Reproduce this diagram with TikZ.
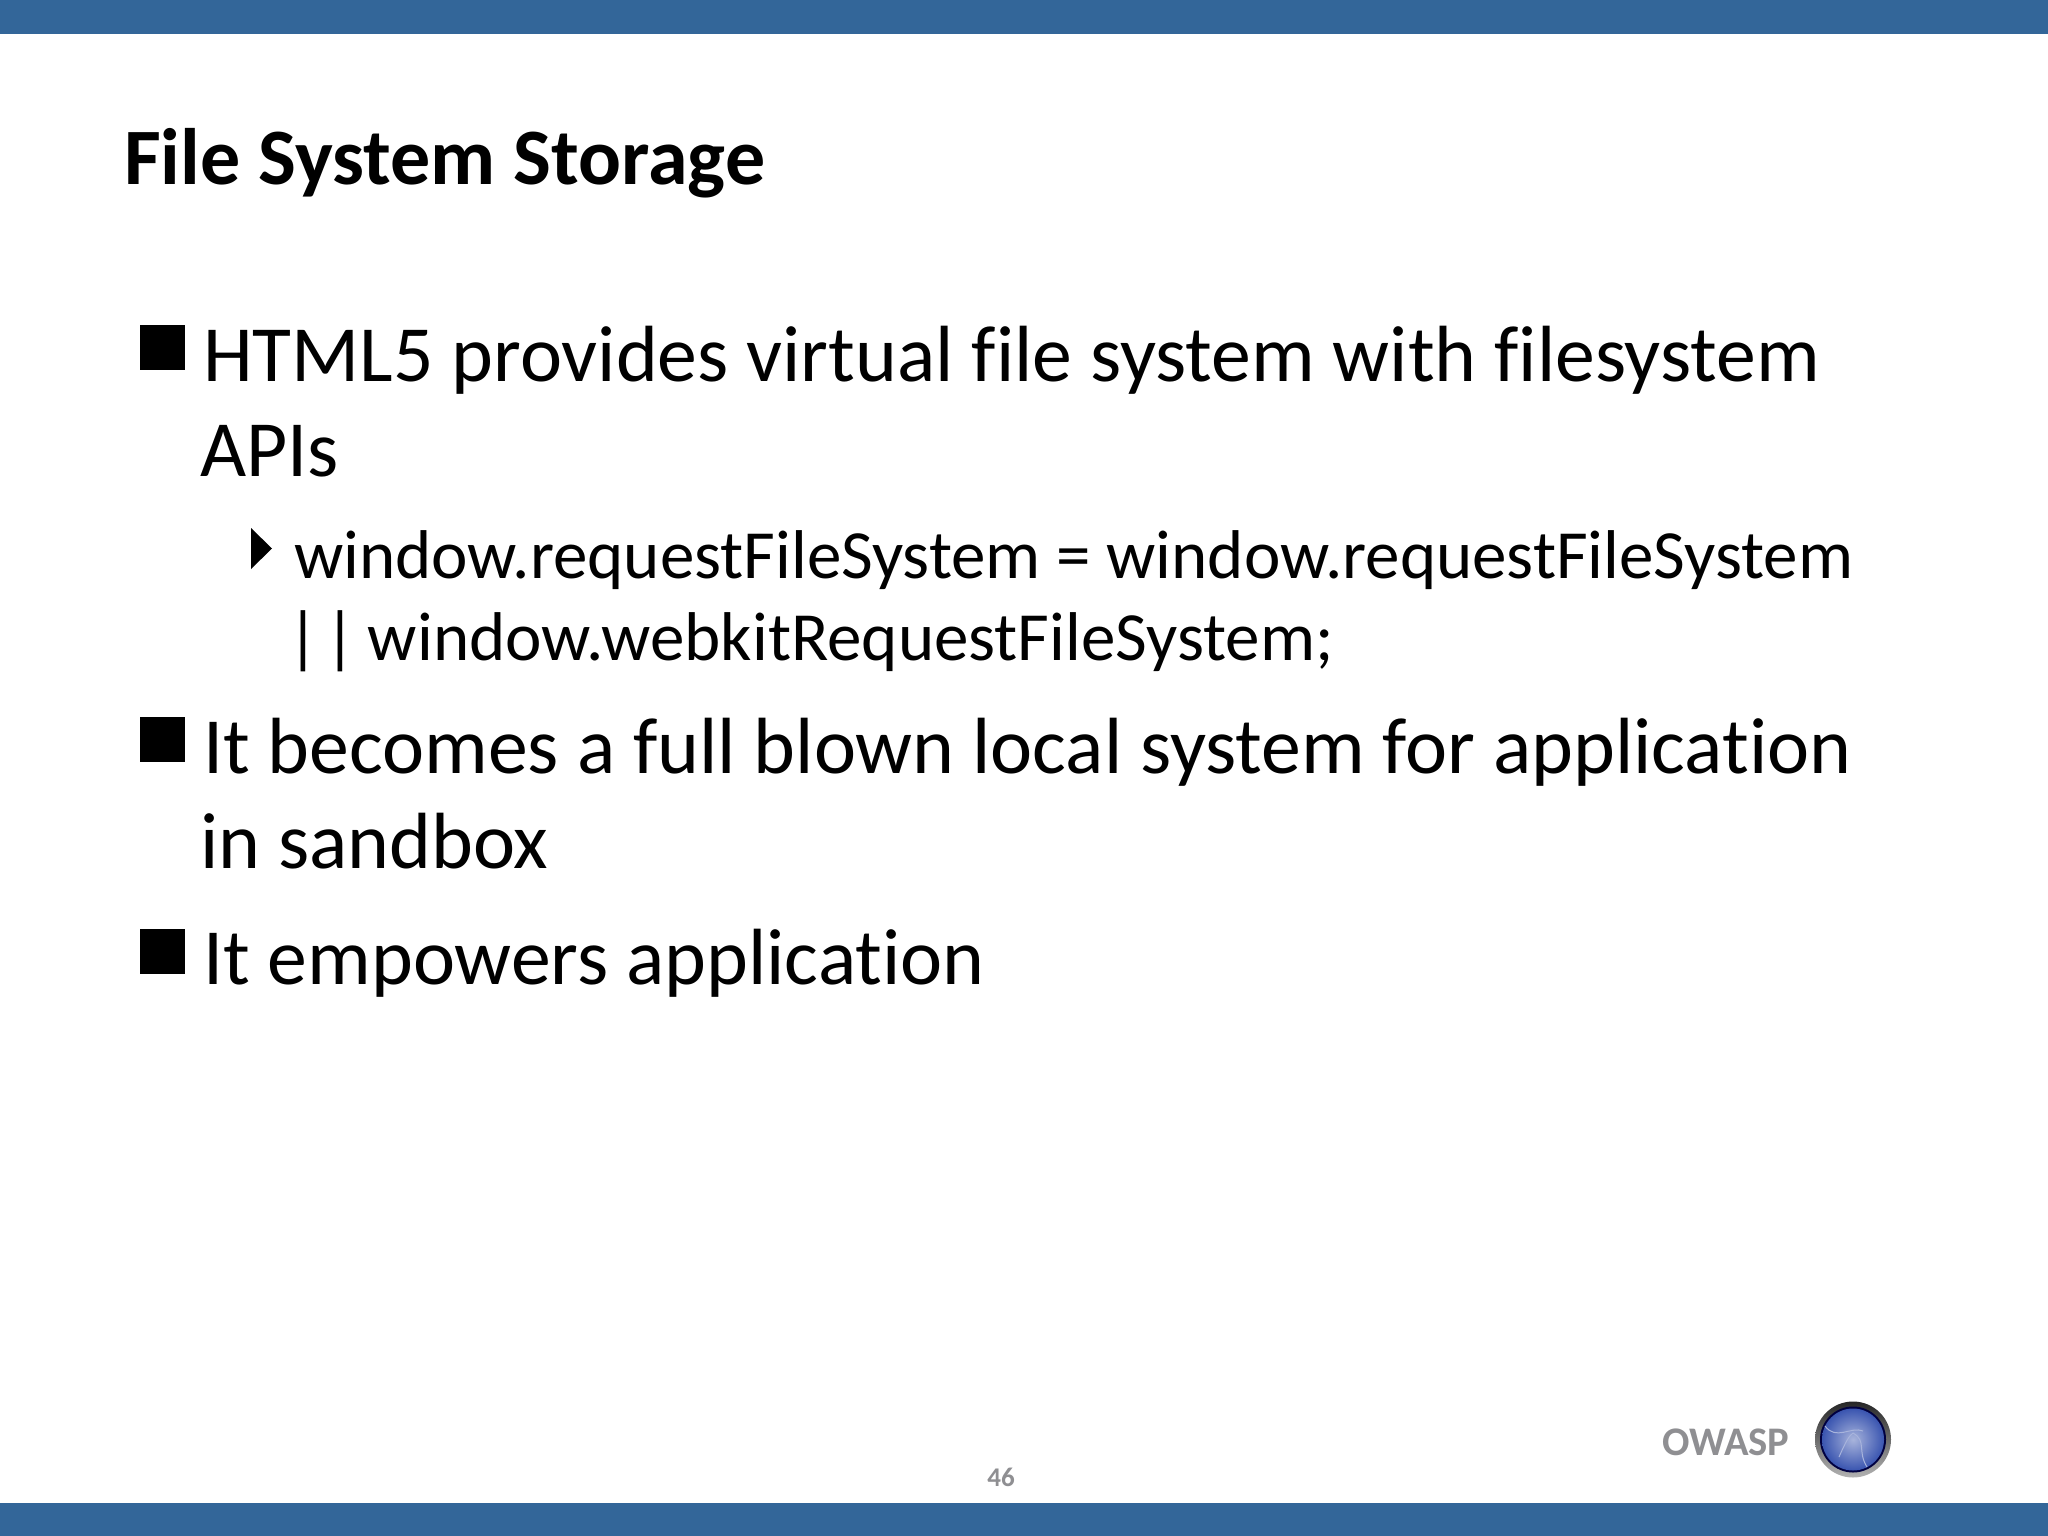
\documentclass[tikz,border=0pt]{standalone}
\usepackage{fontspec}
\setmainfont[Ligatures=NoCommon]{Carlito}
\usepackage{tikz}
\usetikzlibrary{positioning,shapes.geometric}
\definecolor{band1}{HTML}{336699}
\definecolor{gray1}{HTML}{8F8F92}
\definecolor{globe1}{HTML}{3A55B0}
\definecolor{globe2}{HTML}{A8B4DC}
\begin{document}
\begin{tikzpicture}[x=1pt,y=-1pt,
    body/.style={anchor=base west, inner sep=0pt, font=\fontsize{79.7}{90}\selectfont},
    sub/.style={anchor=base west, inner sep=0pt, font=\fontsize{69}{80}\selectfont},
    sqbullet/.style={fill=black, inner sep=0pt, minimum size=45pt},
    web/.style={globe2, line width=1pt},
]
\useasboundingbox (0,0) rectangle (2048,1536);
% Bands
\fill[band1] (0,0) rectangle (2048,34);
\fill[band1] (0,1503) rectangle (2048,1536);

% Title
\node[anchor=base west, inner sep=0pt, font=\bfseries\fontsize{80}{90}\selectfont] (title) at (124,184) {File System Storage};

% Main bullets
\node[sqbullet, anchor=north west] (b1) at (140,325) {};
\node[body] (t1) at (203,381) {HTML5 provides virtual file system with filesystem};
\node[body] (t1b) at (200,476) {APIs};
\node[sqbullet, anchor=north west] (b2) at (140,717) {};
\node[body] (t2) at (203,773) {It becomes a full blown local system for application};
\node[body] (t2b) at (200,868) {in sandbox};
\node[sqbullet, anchor=north west] (b3) at (140,929) {};
\node[body] (t3) at (203,984) {It empowers application};

% Sub bullet
\fill (251,528) -- (272,548.5) -- (251,569) -- cycle;
\node[sub] (s1) at (294,578) {window.requestFileSystem = window.requestFileSystem};
\node[sub] (s1b) at (287,660) {|\kern-10pt\ |\kern-4pt\ window.webkitRequestFileSystem;};

% Footer
\node[anchor=base west, inner sep=0pt, text=gray1, font=\bfseries\fontsize{40.6}{46}\selectfont] (owasp) at (1662,1455) {OWASP};
\node[anchor=base, inner sep=0pt, text=gray1, font=\bfseries\fontsize{27}{30}\selectfont] (page) at (1001,1486) {46};

% Logo
\shade[top color=black!85, bottom color=black!30] (1853,1439.5) circle (38);
\fill[black!75!blue] (1853,1439.5) circle (33);
\shade[inner color=globe2, outer color=globe1] (1853,1439.5) circle (31);
\draw[web] (1825,1426) .. controls (1836,1441) and (1851,1426) .. (1863,1431);
\draw[web] (1839,1457) .. controls (1846,1441) and (1849,1436) .. (1853,1433);
\draw[web] (1853,1433) .. controls (1867,1441) and (1857,1451) .. (1867,1467);
\end{tikzpicture}
\end{document}
